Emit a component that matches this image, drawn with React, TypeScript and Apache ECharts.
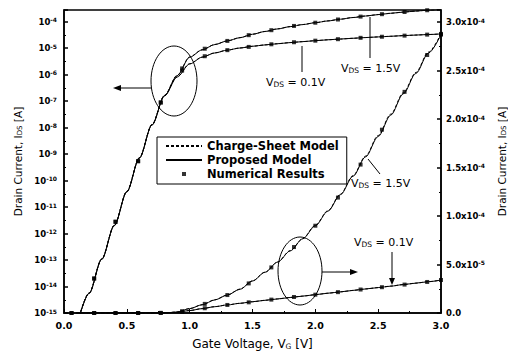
import React, { useEffect, useRef } from "react";
import * as echarts from "echarts";

// Gate voltage grid of the model curves [V]
const vgModel = [
  0.1, 0.2, 0.3, 0.4, 0.5, 0.6, 0.7, 0.8, 0.9, 1.0,
  1.1, 1.2, 1.3, 1.4, 1.5, 1.6, 1.7, 1.8, 1.9, 2.0,
  2.1, 2.2, 2.3, 2.4, 2.5, 2.6, 2.7, 2.8, 2.9, 3.0,
];
// Proposed model, drain current [A]
const idsProp15 = [
  3.2e-16, 5.6e-15, 1.07e-13, 2.0e-12, 3.8e-11, 7.1e-10, 1.26e-8, 1.6e-7, 9.0e-7, 4.5e-6,
  8.5e-6, 1.35e-5, 1.85e-5, 2.45e-5, 3.3e-5, 4.2e-5, 5.25e-5, 6.4e-5, 7.65e-5, 9.0e-5,
  1.05e-4, 1.22e-4, 1.41e-4, 1.61e-4, 1.82e-4, 2.04e-4, 2.26e-4, 2.47e-4, 2.68e-4, 2.87e-4,
];
const idsProp01 = [
  3.1e-16, 5.5e-15, 1.05e-13, 1.96e-12, 3.7e-11, 7.0e-10, 1.23e-8, 1.55e-7, 8.0e-7, 2.5e-6,
  4.5e-6, 6.5e-6, 8.3e-6, 1.0e-5, 1.16e-5, 1.31e-5, 1.45e-5, 1.6e-5, 1.74e-5, 1.89e-5,
  2.04e-5, 2.18e-5, 2.33e-5, 2.48e-5, 2.62e-5, 2.77e-5, 2.93e-5, 3.08e-5, 3.23e-5, 3.4e-5,
];
// Charge-sheet model, drain current [A]
const idsCS15 = [
  3.3e-16, 5.8e-15, 1.1e-13, 2.05e-12, 3.9e-11, 7.3e-10, 1.3e-8, 1.65e-7, 9.3e-7, 4.6e-6,
  8.6e-6, 1.36e-5, 1.86e-5, 2.46e-5, 3.31e-5, 4.22e-5, 5.27e-5, 6.43e-5, 7.68e-5, 9.04e-5,
  1.055e-4, 1.226e-4, 1.417e-4, 1.618e-4, 1.83e-4, 2.05e-4, 2.27e-4, 2.48e-4, 2.69e-4, 2.88e-4,
];
const idsCS01 = [
  3.2e-16, 5.7e-15, 1.08e-13, 2.0e-12, 3.8e-11, 7.2e-10, 1.27e-8, 1.6e-7, 8.2e-7, 2.55e-6,
  4.55e-6, 6.55e-6, 8.35e-6, 1.0e-5, 1.16e-5, 1.31e-5, 1.45e-5, 1.6e-5, 1.74e-5, 1.89e-5,
  2.04e-5, 2.18e-5, 2.33e-5, 2.48e-5, 2.62e-5, 2.77e-5, 2.93e-5, 3.08e-5, 3.23e-5, 3.4e-5,
];
// Numerical results
const vgNum = [0.06, 0.24, 0.41, 0.59, 0.77, 0.94, 1.12, 1.3, 1.47, 1.65, 1.83, 2.0, 2.18, 2.36, 2.53, 2.71, 2.89, 3.0];
const idsNum15 = [
  1e-16, 2.0e-14, 2.8e-12, 5.4e-10, 8.9e-8, 1.7e-6, 9.4e-6, 1.85e-5, 3.05e-5, 4.7e-5,
  6.8e-5, 9.0e-5, 1.19e-4, 1.53e-4, 1.89e-4, 2.28e-4, 2.66e-4, 2.87e-4,
];
const idsNum01 = [
  1e-16, 2.0e-14, 2.75e-12, 5.3e-10, 8.7e-8, 1.4e-6, 4.9e-6, 8.3e-6, 1.1e-5, 1.38e-5,
  1.65e-5, 1.89e-5, 2.15e-5, 2.42e-5, 2.66e-5, 2.93e-5, 3.2e-5, 3.4e-5,
];
// Axes
const logMinExp = -15;
const logMaxExp = -3.566;
const linMax = 3.124e-4;
const linStep = 5e-5;
const legendNames = ["Charge-Sheet Model", "Proposed Model", "Numerical Results"];

const FONT = "'Liberation Sans', Arial, Helvetica, sans-serif";
const DFONT = "'DejaVu Sans', Verdana, sans-serif";

const zipLog = (xs: number[], ys: number[]) => xs.map((x, i) => [x, Math.log10(ys[i])]);
const zipLin = (xs: number[], ys: number[]) => xs.map((x, i) => [x, ys[i]]);

function lineSeries(name: string, yIdx: number, data: number[][], dashed: boolean) {
  return {
    type: "line",
    name,
    yAxisIndex: yIdx,
    data,
    symbol: "none",
    showSymbol: false,
    smooth: 0.3,
    smoothMonotone: "x",
    clip: true,
    silent: true,
    z: dashed ? 4 : 3,
    itemStyle: { color: "#000" },
    lineStyle: { color: "#000", width: 1, type: dashed ? [3, 2] : "solid" },
  };
}
function scatterSeries(yIdx: number, data: number[][]) {
  return {
    type: "scatter",
    name: legendNames[2],
    yAxisIndex: yIdx,
    data,
    symbol: "rect",
    symbolSize: 4,
    clip: true,
    silent: true,
    z: 5,
    itemStyle: { color: "#000" },
  };
}

const tickRich = {
  b: { fontFamily: DFONT, fontSize: 8.5, fontWeight: "bold", color: "#000", lineHeight: 10 },
  s: { fontFamily: DFONT, fontSize: 6, fontWeight: "bold", color: "#000", lineHeight: 6, verticalAlign: "top", padding: [0, 0, 8, 0] },
};
const nameRich = {
  sub: { fontFamily: DFONT, fontSize: 7, color: "#000", lineHeight: 7, verticalAlign: "bottom", padding: [5, 0, 0, 0] },
};
const labelRich = {
  n: { fontFamily: DFONT, fontSize: 11, color: "#000", lineHeight: 12 },
  s: { fontFamily: DFONT, fontSize: 7.5, color: "#000", lineHeight: 7, verticalAlign: "bottom", padding: [6, 0, 0, 0] },
};

function vdsLabel(x: number, y: number, v: string) {
  return {
    type: "text",
    x,
    y,
    style: {
      text: `{n|V}{s|DS}{n| = ${v}}`,
      rich: labelRich,
      fill: "#000",
      verticalAlign: "middle",
    },
    z: 10,
  };
}

export default function App() {
  const ref = useRef<HTMLDivElement>(null);
  useEffect(() => {
    const chart = echarts.init(ref.current!, null, { renderer: "svg" });
    const axisLine = { lineStyle: { color: "#000", width: 1.5 } };
    const option: any = {
      animation: false,
      backgroundColor: "#fff",
      textStyle: { fontFamily: FONT },
      grid: {
        left: 64, right: 67, top: 10, bottom: 49,
        containLabel: false, outerBoundsMode: "none",
        show: true, borderColor: "#000", borderWidth: 1.5, backgroundColor: "transparent",
      },
      legend: {
        orient: "vertical",
        left: 157,
        top: 137,
        itemWidth: 36,
        itemHeight: 4,
        itemGap: 2,
        padding: [3, 8, 4, 8],
        borderColor: "#000",
        borderWidth: 1,
        backgroundColor: "#fff",
        selectedMode: false,
        symbolKeepAspect: true,
        textStyle: { fontFamily: DFONT, fontSize: 11.5, fontWeight: "bold", color: "#000" },
        data: [
          { name: legendNames[0], itemStyle: { opacity: 0 } },
          { name: legendNames[1], itemStyle: { opacity: 0 } },
          { name: legendNames[2], icon: "path://M0,0L1,0L1,1L0,1Z" },
        ],
      },
      xAxis: {
        type: "value",
        min: 0,
        max: 3,
        interval: 0.5,
        axisLine,
        axisTick: { inside: true, length: 4, lineStyle: { color: "#000", width: 1 } },
        minorTick: { show: true, splitNumber: 2, length: 2, lineStyle: { color: "#000" } },
        splitLine: { show: false },
        axisLabel: { color: "#000", fontFamily: DFONT, fontSize: 9.5, fontWeight: "bold", margin: 7, formatter: (v: number) => v.toFixed(1) },
        name: "Gate Voltage, V{sub|G} [V]",
        nameLocation: "middle",
        nameGap: 25,
        nameTextStyle: { fontFamily: DFONT, fontSize: 12, color: "#000", rich: { sub: { fontFamily: DFONT, fontSize: 7.5, color: "#000", lineHeight: 7, verticalAlign: "bottom", padding: [6, 0, 0, 0] } } },
      },
      yAxis: [
        {
          type: "value",
          position: "left",
          min: logMinExp,
          max: logMaxExp,
          interval: 1,
          axisLine,
          axisTick: { inside: true, length: 4, lineStyle: { color: "#000", width: 1.5 } },
          minorTick: { show: true, splitNumber: 2, length: 2, lineStyle: { color: "#000" } },
          splitLine: { show: false },
          axisLabel: {
            margin: 7,
            showMaxLabel: false,
            formatter: (v: number) => `{b|10}{s|${Math.round(v)}}`,
            rich: tickRich,
          },
          name: "Drain Current, I{sub|DS} [A]",
          nameLocation: "middle",
          nameRotate: 90,
          nameGap: 36,
          nameTextStyle: { fontFamily: DFONT, fontSize: 10.5, color: "#000", rich: nameRich },
        },
        {
          type: "value",
          position: "right",
          min: 0,
          max: linMax,
          interval: linStep,
          axisLine,
          axisTick: { inside: true, length: 4, lineStyle: { color: "#000", width: 1.5 } },
          minorTick: { show: true, splitNumber: 2, length: 2, lineStyle: { color: "#000" } },
          splitLine: { show: false },
          axisLabel: {
            margin: 5,
            showMaxLabel: false,
            formatter: (v: number) => {
              if (Math.abs(v) < 1e-12) return "{b|0.0}";
              const e = Math.floor(Math.log10(v) + 1e-9);
              const m = v / Math.pow(10, e);
              return `{b|${m.toFixed(1)}x10}{s|${e}}`;
            },
            rich: tickRich,
          },
          name: "Drain Current, I{sub|DS} [A]",
          nameLocation: "middle",
          nameRotate: 90,
          nameGap: 45,
          nameTextStyle: { fontFamily: DFONT, fontSize: 10.5, color: "#000", rich: nameRich },
        },
      ],
      series: [
        lineSeries(legendNames[0], 0, zipLog(vgModel, idsCS15), true),
        lineSeries(legendNames[0], 0, zipLog(vgModel, idsCS01), true),
        lineSeries(legendNames[0], 1, zipLin(vgModel, idsCS15), true),
        lineSeries(legendNames[0], 1, zipLin(vgModel, idsCS01), true),
        lineSeries(legendNames[1], 0, zipLog(vgModel, idsProp15), false),
        lineSeries(legendNames[1], 0, zipLog(vgModel, idsProp01), false),
        lineSeries(legendNames[1], 1, zipLin(vgModel, idsProp15), false),
        lineSeries(legendNames[1], 1, zipLin(vgModel, idsProp01), false),
        scatterSeries(0, zipLog(vgNum, idsNum15)),
        scatterSeries(0, zipLog(vgNum, idsNum01)),
        scatterSeries(1, zipLin(vgNum, idsNum15)),
        scatterSeries(1, zipLin(vgNum, idsNum01)),
      ],
      graphic: [
        { type: "ellipse", shape: { cx: 174, cy: 81, rx: 23, ry: 35 }, style: { fill: "none", stroke: "#000", lineWidth: 1 }, z: 10 },
        { type: "line", shape: { x1: 151, y1: 88, x2: 118, y2: 88 }, style: { stroke: "#000", lineWidth: 1 }, z: 10 },
        { type: "polygon", shape: { points: [[113, 88], [121, 85], [121, 91]] }, style: { fill: "#000" }, z: 10 },
        { type: "ellipse", shape: { cx: 300, cy: 271, rx: 22, ry: 34 }, style: { fill: "none", stroke: "#000", lineWidth: 1 }, z: 10 },
        { type: "line", shape: { x1: 322, y1: 272, x2: 354, y2: 272 }, style: { stroke: "#000", lineWidth: 1 }, z: 10 },
        { type: "polygon", shape: { points: [[358, 272], [350, 269], [350, 275]] }, style: { fill: "#000" }, z: 10 },
        // upper labels
        vdsLabel(266, 82, "0.1V"),
        { type: "line", shape: { x1: 302, y1: 72, x2: 302, y2: 46 }, style: { stroke: "#000", lineWidth: 1 }, z: 10 },
        vdsLabel(341, 68, "1.5V"),
        { type: "line", shape: { x1: 370, y1: 58, x2: 370, y2: 17 }, style: { stroke: "#000", lineWidth: 1 }, z: 10 },
        // lower labels
        vdsLabel(351, 183, "1.5V"),
        { type: "line", shape: { x1: 380, y1: 174, x2: 368, y2: 159 }, style: { stroke: "#000", lineWidth: 1 }, z: 10 },
        vdsLabel(354, 242, "0.1V"),
        { type: "line", shape: { x1: 392, y1: 252, x2: 392, y2: 280 }, style: { stroke: "#000", lineWidth: 1 }, z: 10 },
        { type: "polygon", shape: { points: [[392, 285], [389, 278], [395, 278]] }, style: { fill: "#000" }, z: 10 },
      ],
    };
    chart.setOption(option);
    return () => chart.dispose();
  }, []);
  return (
    <div
      ref={ref}
      style={{ position: "fixed", left: 0, top: 0, width: 508, height: 362, background: "#fff" }}
    />
  );
}
